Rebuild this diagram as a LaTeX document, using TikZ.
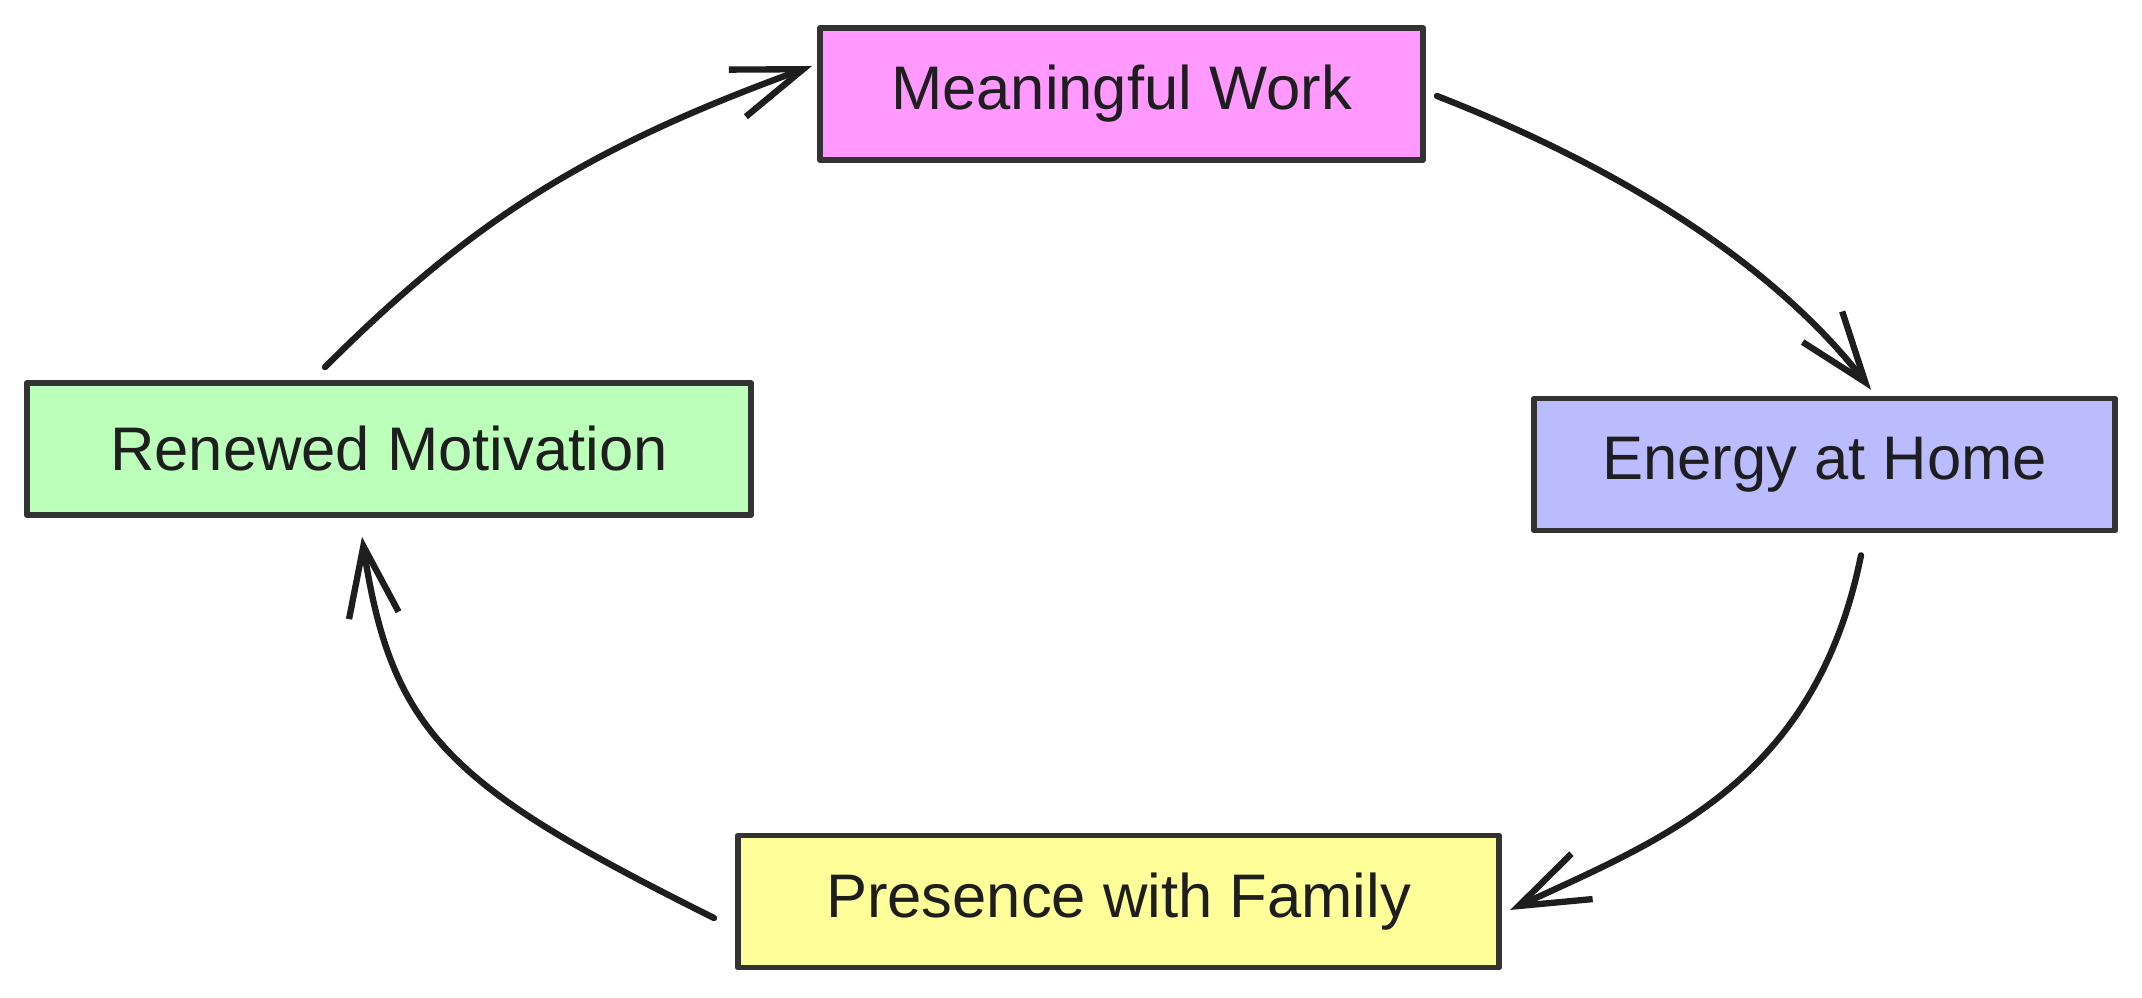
\documentclass[tikz,border=0pt]{standalone}
\usepackage{fontspec}
\setmainfont{Liberation Sans}
\usepackage{xcolor}
\usetikzlibrary{arrows.meta}
\definecolor{ink}{HTML}{1E1E1E}
\definecolor{edge}{HTML}{333333}
\definecolor{pinkfill}{HTML}{FF99FF}
\definecolor{bluefill}{HTML}{BBBBFF}
\definecolor{yellowfill}{HTML}{FFFF99}
\definecolor{greenfill}{HTML}{BBFFBB}

\begin{document}
\begin{tikzpicture}[x=0.01cm,y=-0.01cm,
    box/.style={draw=edge,line width=1.6pt,line join=round,inner sep=0pt,
      minimum width=#1,minimum height=1.32cm,text=ink,
      font=\fontsize{17.5}{20}\selectfont},
    arr/.style={ink,line width=1.8pt,line cap=round,
      -{Straight Barb[length=0.7cm,width=0.5cm,line width=1.8pt]}}]
    \useasboundingbox (0,0) rectangle (2142,998);

    \node[box=6.03cm,fill=pinkfill] (mw) at (1121.5,94) {Meaningful Work};
    \node[box=5.81cm,fill=bluefill] (eh) at (1824.5,464.5) {Energy at Home};
    \node[box=7.61cm,fill=yellowfill] (pf) at (1118.5,901.5) {Presence with Family};
    \node[box=7.24cm,fill=greenfill] (rm) at (389,449) {Renewed Motivation};

    \draw[arr] ([shift={(-64,-13)}]rm.north) .. controls +(150,-150) and +(-220,80) .. ([shift={(-5,-28)}]mw.west);
    \draw[arr] ([shift={(11,2)}]mw.east) .. controls +(210,82) and +(-85,-110) .. ([shift={(46.5,-6)}]eh.north);
    \draw[arr] ([shift={(36.5,22)}]eh.south) .. controls +(-46,228) and +(150,-70) .. ([shift={(8,8.5)}]pf.east);
    \draw[arr] ([shift={(-21,16.5)}]pf.west) .. controls +(-260,-130) and +(30,200) .. ([shift={(-27,19)}]rm.south);
\end{tikzpicture}
\end{document}
